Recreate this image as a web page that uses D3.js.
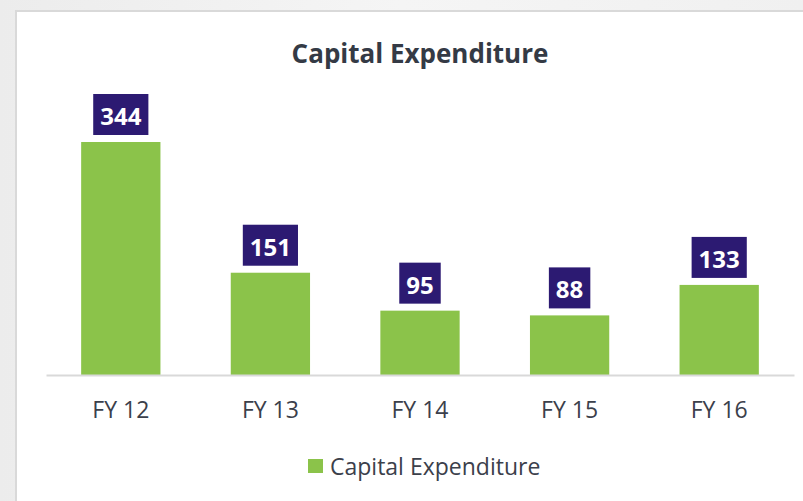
<!DOCTYPE html>
<html><head><meta charset="utf-8">
<script src="https://cdn.jsdelivr.net/npm/d3@7"></script>
<style>
html,body{margin:0;padding:0;background:#f1f1f1;overflow:hidden}
svg{display:block}
</style></head>
<body>
<svg id="chart" width="803" height="501"></svg>
<script>
const categories = ["FY 12", "FY 13", "FY 14", "FY 15", "FY 16"];
const values = [344, 151, 95, 88, 133];
const seriesName = "Capital Expenditure";
const title = "Capital Expenditure";

const svg = d3.select("#chart");
const font = "'Open Sans', sans-serif";

// background
const defs = svg.append("defs");
const g0 = defs.append("linearGradient").attr("id","bg").attr("x1",0).attr("x2",1).attr("y1",0).attr("y2",0);
g0.append("stop").attr("offset","0%").attr("stop-color","#ececec");
g0.append("stop").attr("offset","50%").attr("stop-color","#f5f5f5");
g0.append("stop").attr("offset","100%").attr("stop-color","#f0f0f0");
svg.append("rect").attr("width",803).attr("height",501).attr("fill","url(#bg)");

// panel
svg.append("rect").attr("x",16).attr("y",11).attr("width",800).attr("height",500)
  .attr("fill","#fff").attr("stroke","#d9d9d9").attr("stroke-width",2);

const x = d3.scaleBand().domain(categories).range([46, 794]).paddingInner(0.47).paddingOuter(0.235);
const y = d3.scaleLinear().domain([0, 344]).range([375, 142]);

svg.append("text").attr("x",420).attr("y",63).attr("text-anchor","middle")
  .attr("font-family",font).attr("font-weight",700).attr("font-size",26)
  .attr("fill","#343a45").text(title);

svg.selectAll("rect.bar").data(values).join("rect").attr("class","bar")
  .attr("x",(d,i)=>x(categories[i])).attr("width",x.bandwidth())
  .attr("y",d=>y(d)).attr("height",d=>y(0)-y(d)).attr("fill","#8bc34a");

// axis
const axis = svg.append("g").attr("transform","translate(0,375)")
  .call(d3.axisBottom(x).tickSize(0).tickPadding(24));
axis.select(".domain").attr("stroke","#d9d9d9").attr("stroke-width",2);
axis.selectAll("text").attr("font-family",font).attr("font-size",23).attr("fill","#3b404b").attr("dy","0.71em").attr("y",27);

// labels
const lab = svg.selectAll("g.lab").data(values).join("g").attr("class","lab");
lab.each(function(d,i){
  const g = d3.select(this);
  const cx = x(categories[i]) + x.bandwidth()/2;
  const t = g.append("text").attr("x",cx).attr("text-anchor","middle")
    .attr("dominant-baseline","central")
    .attr("font-family",font).attr("font-weight",700).attr("font-size",24).attr("fill","#fff").text(d);
  const w = t.node().getComputedTextLength() + 14;
  g.insert("rect","text").attr("x",cx-w/2).attr("y",y(d)-7-41).attr("width",w).attr("height",41).attr("fill","#2c1a72");
  t.attr("y", y(d)-7-20.5+1);
});

// legend
const leg = svg.append("g");
leg.append("rect").attr("x",308).attr("y",459).attr("width",15).attr("height",14).attr("fill","#8bc34a");
leg.append("text").attr("x",330).attr("y",475).attr("font-family",font).attr("font-size",23)
  .attr("fill","#3b404b").text(seriesName);
</script>
</body></html>
